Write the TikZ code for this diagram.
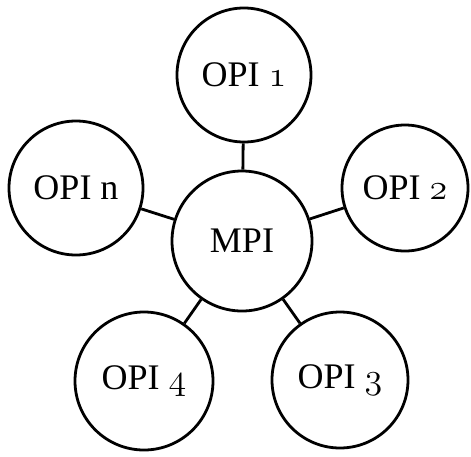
\RequirePackage{fix-cm}
\documentclass[tikz,border=0pt]{standalone}
\usepackage{fontspec}
\setmainfont{Liberation Serif}
% old-style digits taken from the math italic font
\newcommand{\osf}[1]{\ensuremath{\mathnormal{#1}}}
\begin{document}
\begin{tikzpicture}[x=1pt,y=-1pt,
  bubble/.style={circle,draw=black,line width=2.8pt,fill=white,inner sep=0pt,
    font=\fontsize{36}{38}\selectfont},
  link/.style={draw=black,line width=2.8pt}]
  \useasboundingbox (0,0) rectangle (471,456);
  \node[bubble,minimum size=140pt] (mpi) at (242,241) {MPI};
  \node[bubble,minimum size=134pt] (o1) at (244,75) {OPI \osf{1}};
  \node[bubble,minimum size=126pt] (o2) at (405,188) {OPI \osf{2}};
  \node[bubble,minimum size=136pt] (o3) at (340,380) {OPI \osf{3}};
  \node[bubble,minimum size=138pt] (o4) at (144,381) {OPI \osf{4}};
  \node[bubble,minimum size=134pt] (on) at (76,188) {OPI n};
  \foreach \t in {o1,o2,o3,o4,on}
    \draw[link] (mpi) -- (\t);
\end{tikzpicture}
\end{document}
